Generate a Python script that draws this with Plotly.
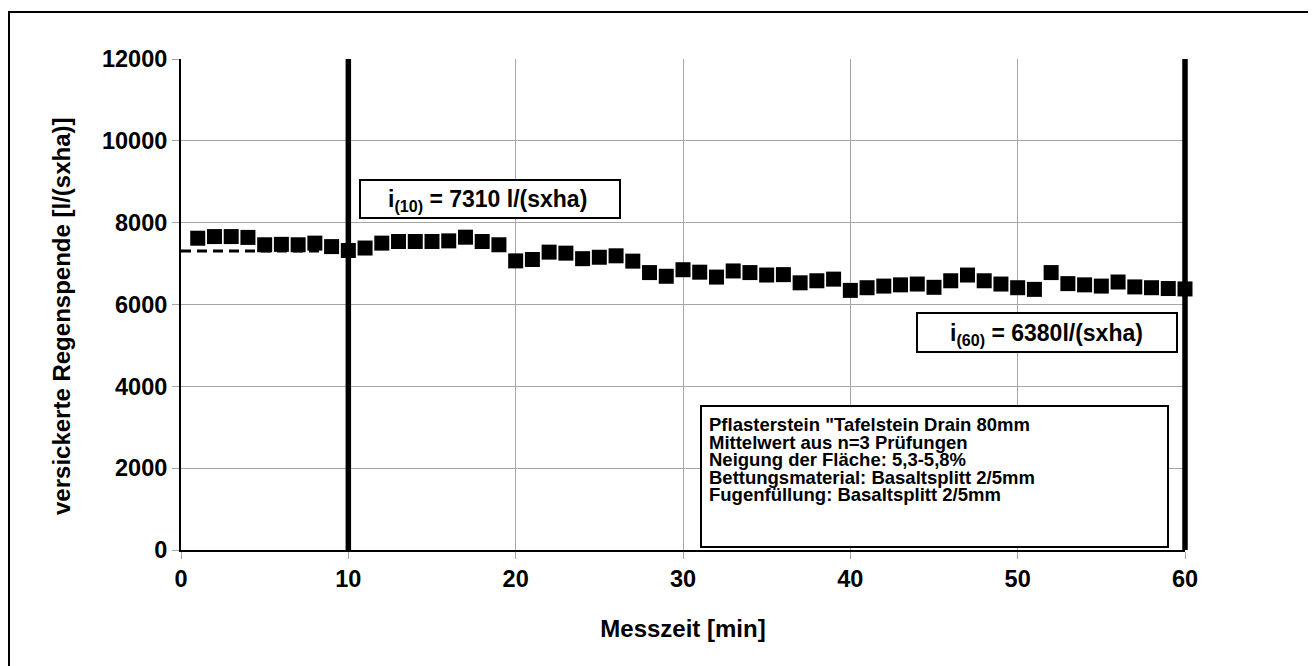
import plotly.graph_objects as go

minutes = list(range(1, 61))
values = [7620, 7660, 7660, 7640, 7460, 7470, 7460, 7500, 7415, 7320,
          7380, 7500, 7540, 7540, 7540, 7555, 7645, 7540, 7460, 7066,
          7100, 7280, 7255, 7120, 7155, 7190, 7060, 6780, 6690, 6850,
          6790, 6670, 6820, 6780, 6720, 6730, 6530, 6580, 6620, 6345,
          6410, 6450, 6480, 6500, 6420, 6580, 6720, 6580, 6500, 6410,
          6370, 6780, 6510, 6480, 6450, 6550, 6430, 6410, 6390, 6380]
i10 = 7310
i60 = 6380
vlines = [10, 60]
x_range = [0, 60]
y_range = [0, 12000]
x_ticks = [0, 10, 20, 30, 40, 50, 60]
y_ticks = [0, 2000, 4000, 6000, 8000, 10000, 12000]
y_ticktext = ["0", "2000", "4000", "6000", "8000", "10000", "12000"]
info_lines = ['Pflasterstein "Tafelstein Drain 80mm',
              'Mittelwert aus n=3 Prüfungen',
              'Neigung der Fläche: 5,3-5,8%',
              'Bettungsmaterial: Basaltsplitt 2/5mm',
              'Fugenfüllung: Basaltsplitt 2/5mm']

FONT = "Liberation Sans, Arial, sans-serif"

# plot area in screen pixels (page has 8px body margin)
PL, PR, PT, PB = 181, 1185, 59, 550
PW, PH = PR - PL, PB - PT


def px_x(p):
    return (p - PL) / PW


def px_y(p):
    return (PB - p) / PH


fig = go.Figure()
fig.add_trace(go.Scatter(x=[x_range[0], vlines[0]], y=[i10, i10], mode="lines",
                         line=dict(color="black", width=3, dash="10px,6px"),
                         showlegend=False, hoverinfo="skip"))
fig.add_trace(go.Scatter(x=minutes, y=values, mode="markers", cliponaxis=False,
                         marker=dict(symbol="square", size=15, color="black",
                                     line=dict(width=0)),
                         showlegend=False))

shapes = [
    dict(type="rect", xref="paper", yref="paper",
         x0=px_x(9), x1=px_x(1312), y0=px_y(690), y1=px_y(12),
         line=dict(color="black", width=2), fillcolor="rgba(0,0,0,0)", layer="below"),
]
for v in vlines:
    d = (v - x_range[0]) / (x_range[1] - x_range[0])
    shapes.append(dict(type="line", xref="x domain", yref="y",
                       x0=d, x1=d, y0=y_range[0], y1=y_range[1],
                       line=dict(color="black", width=5.5)))
shapes += [
    dict(type="rect", xref="paper", yref="paper",
         x0=px_x(360), x1=px_x(620), y0=px_y(218), y1=px_y(180),
         line=dict(color="black", width=2), fillcolor="white"),
    dict(type="rect", xref="paper", yref="paper",
         x0=px_x(917), x1=px_x(1177), y0=px_y(352), y1=px_y(313),
         line=dict(color="black", width=2), fillcolor="white"),
    dict(type="rect", xref="paper", yref="paper",
         x0=px_x(701), x1=px_x(1168), y0=px_y(547), y1=px_y(406),
         line=dict(color="black", width=2), fillcolor="white"),
]

annotations = [
    dict(x=px_x(487), y=px_y(200), xref="paper", yref="paper", showarrow=False,
         xanchor="center", yanchor="middle",
         text="i<sub>(10)</sub> = 7310 l/(sxha)",
         font=dict(family=FONT, size=23, color="black", weight="bold")),
    dict(x=px_x(1046), y=px_y(334), xref="paper", yref="paper", showarrow=False,
         xanchor="center", yanchor="middle",
         text="i<sub>(60)</sub> = 6380l/(sxha)",
         font=dict(family=FONT, size=23, color="black", weight="bold")),
    dict(x=px_x(61), y=px_y(316), xref="paper", yref="paper", showarrow=False,
         xanchor="center", yanchor="middle", textangle=-90,
         text="versickerte Regenspende [l/(sxha)]",
         font=dict(family=FONT, size=24, color="black", weight="bold")),
]
line_centers = [424.5, 442, 459.5, 477, 494.5]
for txt, yc in zip(info_lines, line_centers):
    annotations.append(dict(x=px_x(707), y=px_y(yc), xref="paper", yref="paper",
                            showarrow=False, xanchor="left", yanchor="middle",
                            text=txt,
                            font=dict(family=FONT, size=18.5, color="black", weight="bold")))

fig.update_layout(
    width=1316, height=666,
    margin=dict(l=PL - 8, r=1316 + 8 - PR, t=PT - 8, b=666 + 8 - PB),
    paper_bgcolor="white", plot_bgcolor="white",
    shapes=shapes, annotations=annotations,
    xaxis=dict(range=x_range, tickvals=x_ticks, showgrid=True,
               gridcolor="#a6a6a6", gridwidth=1,
               showline=True, linecolor="black", linewidth=2,
               ticks="outside", ticklen=7, tickcolor="#a6a6a6",
               zeroline=False,
               tickfont=dict(family=FONT, size=23.5, color="black", weight="bold"),
               title=dict(text="Messzeit [min]", standoff=29,
                          font=dict(family=FONT, size=24, color="black", weight="bold"))),
    yaxis=dict(range=y_range, tickvals=y_ticks, ticktext=y_ticktext, showgrid=True,
               gridcolor="#a6a6a6", gridwidth=1,
               showline=True, linecolor="black", linewidth=2,
               ticks="outside", ticklen=7, tickcolor="#a6a6a6",
               zeroline=False,
               tickfont=dict(family=FONT, size=23.5, color="black", weight="bold")),
)

fig.write_html("out.html")
